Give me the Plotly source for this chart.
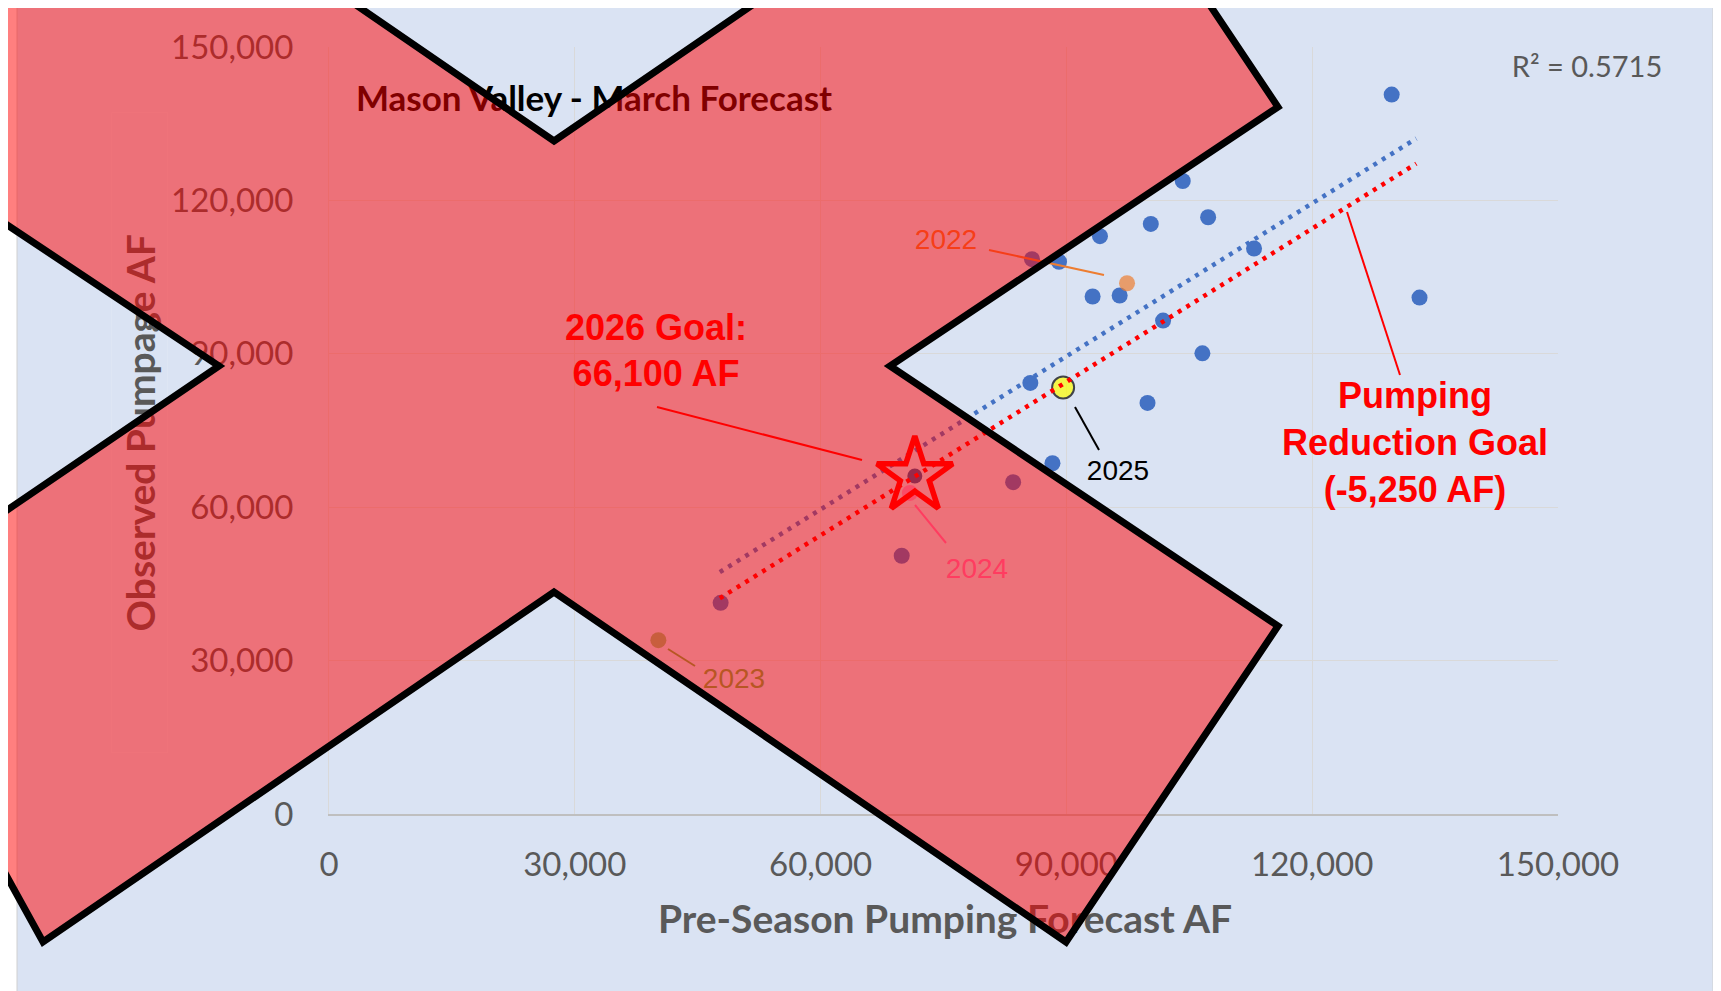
import plotly.graph_objects as go

# Pre-season pumping forecast vs observed pumpage (acre-feet), regular seasons
forecast_af = [47800, 69900, 83500, 85600, 85800, 88300, 89100, 93200, 94100,
               96500, 99900, 100300, 101800, 104200, 106600, 107300, 112900,
               129700, 133100]
observed_af = [41300, 50500, 64900, 84300, 108500, 68600, 108000, 101200, 113000,
               101400, 80400, 115400, 96500, 123800, 90100, 116700, 110600,
               140700, 101000]

# highlighted recent years
year_labels = ["2022", "2023", "2024", "2025"]
year_forecast = [97400, 40200, 70900, 89600]
year_observed = [103800, 34000, 62800, 83400]
year_colors = ["#ED7D31", "#70AD47", "#FF78C0", "#FFFF00"]

# 2026 goal
goal_forecast = [71500]
goal_observed = [66100]

# trendline and reduction-goal line end points
trend_x = [47700, 132700]
trend_y = [47300, 132100]
goal_line_y = [42200, 127200]

r_squared = 0.5715
axis_ticks = [0, 30000, 60000, 90000, 120000, 150000]

# figure geometry in pixels (page body adds an 8px margin)
W, H = 1713, 983
L, R, T, B = 321, 1550, 39, 806

GREY = "#595959"
BLUE = "#4472C4"
CHART_BG = "#DAE3F3"
CALIBRI = "Lato, Carlito, Calibri, sans-serif"
ARIAL = "Arial, Liberation Sans, sans-serif"

fig = go.Figure()

# --- data subplot (x, y) ---
fig.add_trace(go.Scatter(
    x=forecast_af, y=observed_af, mode="markers",
    marker=dict(size=16, color=BLUE), name="Observed", showlegend=False,
))
fig.add_trace(go.Scatter(
    x=goal_forecast, y=goal_observed, mode="markers",
    marker=dict(size=15, color="#2F5597"), showlegend=False, hoverinfo="skip",
))
fig.add_trace(go.Scatter(
    x=year_forecast, y=year_observed, mode="markers", text=year_labels,
    marker=dict(size=[16, 16, 16, 22], color=year_colors,
                line=dict(color=["rgba(0,0,0,0)"] * 3 + ["black"], width=[0, 0, 0, 2])),
    showlegend=False,
))
fig.add_trace(go.Scatter(
    x=trend_x, y=trend_y, mode="lines",
    line=dict(color=BLUE, width=4.5, dash="4px,6px"), showlegend=False,
))
fig.add_trace(go.Scatter(
    x=trend_x, y=goal_line_y, mode="lines",
    line=dict(color="#FF0000", width=4.5, dash="4px,6px"), showlegend=False,
))
fig.add_trace(go.Scatter(
    x=goal_forecast, y=goal_observed, mode="markers",
    marker=dict(symbol="star-open", size=57, color="#FF0000",
                line=dict(width=5.5, color="#FF0000")),
    showlegend=False,
))

# --- pixel subplot (x2, y2) covering the whole figure, for texts ---
fig.add_trace(go.Bar(
    x=[132], y=[640], base=[105], width=[56], xaxis="x2", yaxis="y2",
    marker=dict(color="rgba(0,0,0,0)"),
    text=["<b>Observed Pumpage AF</b>"], textposition="inside", textangle=-90,
    insidetextanchor="middle", constraintext="none", cliponaxis=False,
    insidetextfont=dict(family=CALIBRI, size=39, color=GREY),
    hoverinfo="skip", showlegend=False,
))


def add_text(x, y, text, size, color, family=CALIBRI, bold=False):
    if bold:
        text = "<b>" + text + "</b>"
    fig.add_trace(go.Scatter(
        x=[x], y=[y], xaxis="x2", yaxis="y2", mode="text", text=[text],
        textposition="middle center",
        textfont=dict(family=family, size=size, color=color),
        cliponaxis=False, hoverinfo="skip", showlegend=False,
    ))


add_text(586, 94, "Mason Valley - March Forecast", 35, "#000000", bold=True)
add_text(1579, 62, f"R² = {r_squared}", 29, GREY)
add_text(937, 915, "Pre-Season Pumping Forecast AF", 39, GREY, bold=True)

label_pos = [(938, 234), (726, 673), (969, 563), (1110, 465)]
label_colors = ["#ED7D31", "#70AD47", "#FF78C0", "#000000"]
for (lx, ly), lab, col in zip(label_pos, year_labels, label_colors):
    add_text(lx, ly, lab, 28, col, family=ARIAL)

add_text(648, 346, "2026 Goal:<br>66,100 AF", 36, "#FF0000", family=ARIAL, bold=True)
add_text(1407, 438, "Pumping<br>Reduction Goal<br>(-5,250 AF)", 36, "#FF0000",
         family=ARIAL, bold=True)

# chart-area background (paper coords == figure since margins are zero)
shapes = [dict(type="rect", xref="paper", yref="paper",
               x0=9 / W, y0=1 - 995 / H, x1=1705 / W, y1=1 + 1 / H,
               fillcolor=CHART_BG, line=dict(color="#D0D0D0", width=1), layer="below")]

# leader lines (pixels)
leaders = [
    ((981, 242), (1096, 267), "#ED7D31"),
    ((660, 641), (687, 658), "#70AD47"),
    ((907, 497), (938, 535), "#FF78C0"),
    ((1067, 399), (1091, 442), "#000000"),
    ((649, 399), (854, 452), "#FF0000"),
    ((1339, 204), (1392, 367), "#FF0000"),
]
for (x0, y0), (x1, y1), col in leaders:
    shapes.append(dict(type="line", xref="x2", yref="y2", x0=x0, y0=y0, x1=x1, y1=y1,
                       line=dict(color=col, width=2), layer="below"))

# big red X overlay
x_outline = [(546, 133), (1058, -218), (1270, 99), (882, 358), (1270, 618), (1058, 934),
             (546, 584), (35, 934), (-148, 602), (211, 358), (-178, 99), (35, -218)]
path = "M " + " L ".join(f"{px},{py}" for px, py in x_outline) + " Z"
shapes.append(dict(type="path", xref="x2", yref="y2", path=path,
                   fillcolor="rgba(255,0,0,0.5)", line=dict(color="black", width=7),
                   layer="above"))

axis_common = dict(
    range=[0, 150000], tickvals=axis_ticks, tickformat=",", ticks="",
    showgrid=True, gridcolor="#D9D9D9", gridwidth=1, zeroline=False,
    tickfont=dict(family=CALIBRI, size=33, color=GREY), fixedrange=True,
    automargin=False,
)

fig.update_layout(
    width=W, height=H, autosize=False,
    margin=dict(l=0, r=0, t=0, b=0, pad=0, autoexpand=False),
    paper_bgcolor="white", plot_bgcolor="rgba(0,0,0,0)",
    xaxis=dict(**axis_common, domain=[L / W, R / W], anchor="y",
               showline=True, linecolor="#BFBFBF", linewidth=2, ticklabelstandoff=20),
    yaxis=dict(**axis_common, domain=[1 - B / H, 1 - T / H], anchor="x",
               showline=True, linecolor="#D9D9D9", linewidth=1, ticklabelstandoff=28),
    xaxis2=dict(domain=[0, 1], range=[0, W], visible=False, anchor="y2",
                fixedrange=True, automargin=False),
    yaxis2=dict(domain=[0, 1], range=[H, 0], visible=False, anchor="x2",
                fixedrange=True, automargin=False),
    shapes=shapes, showlegend=False, bargap=0,
)

fig.write_html("out.html")
